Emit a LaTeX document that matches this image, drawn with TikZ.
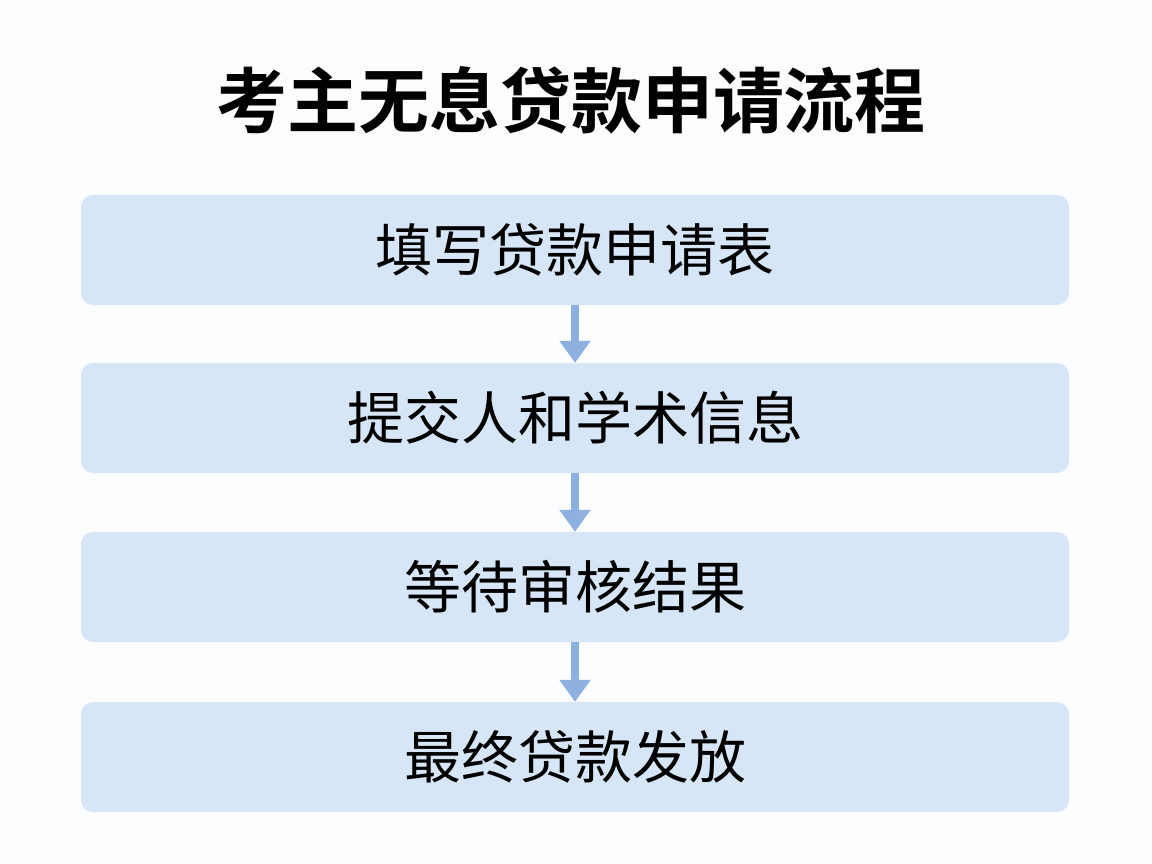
\documentclass[tikz,border=0pt]{standalone}
\usepackage{fontspec}
\newfontfamily\cjk{Noto Sans CJK SC}
\newfontfamily\cjkbold{Noto Sans CJK SC Bold}
\usetikzlibrary{arrows.meta}
\definecolor{boxfill}{HTML}{D7E6F7}
\definecolor{arrowcol}{HTML}{8DB0E0}
\definecolor{bg}{HTML}{FCFDFE}
\tikzset{
  stepbox/.style={fill=boxfill, draw=none, rounded corners=12pt, minimum width=988pt, minimum height=110pt, inner sep=0pt, font=\cjk\fontsize{57pt}{62pt}\selectfont, text=black},
  flowarrow/.style={draw=arrowcol, line width=8pt, -{Triangle[width=30pt,length=22pt]}, shorten >=0pt}
}
\begin{document}
\begin{tikzpicture}[x=1pt,y=-1pt]
\fill[bg] (0,0) rectangle (1152,864);
\useasboundingbox (0,0) rectangle (1152,864);
\node[font=\cjkbold\fontsize{71pt}{76pt}\selectfont, text=black] (title) at (571,100) {考主无息贷款申请流程};
\node[stepbox] (s1) at (575,250) {填写贷款申请表};
\node[stepbox] (s2) at (575,418) {提交人和学术信息};
\node[stepbox] (s3) at (575,587) {等待审核结果};
\node[stepbox] (s4) at (575,757) {最终贷款发放};
\draw[flowarrow] (s1.south) -- (s2.north);
\draw[flowarrow] (s2.south) -- (s3.north);
\draw[flowarrow] (s3.south) -- (s4.north);
\end{tikzpicture}
\end{document}
